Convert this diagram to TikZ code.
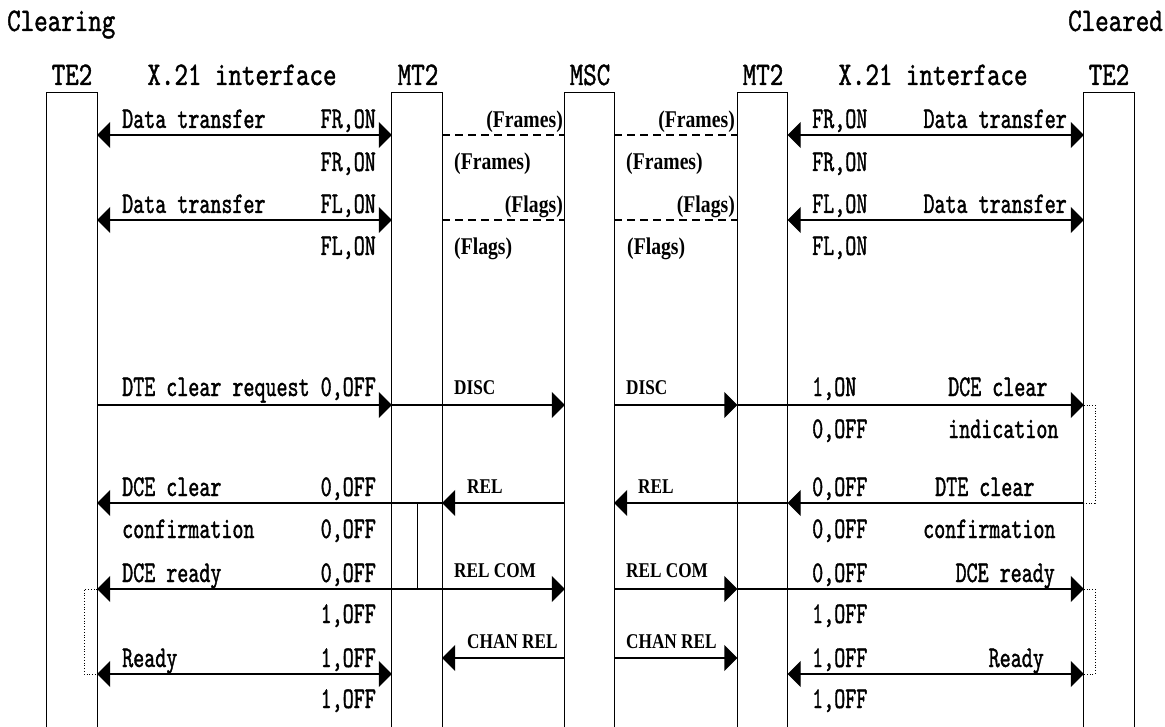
\documentclass[tikz,border=0pt]{standalone}
\usepackage{fontspec}
\newfontfamily\hdrfont{lmmono10-regular.otf}[FakeStretch=0.78, FakeBold=1.2]
\newfontfamily\labfont{lmmono10-regular.otf}[FakeStretch=0.70, FakeBold=1.2]
\newfontfamily\msgfont{Liberation Serif}[FakeStretch=0.82]
\usetikzlibrary{arrows.meta}
\begin{document}
\begin{tikzpicture}[x=1pt,y=-1pt,
 bar/.style={draw=none, minimum width=50pt, minimum height=634pt, anchor=north, inner sep=0pt},
 hdr/.style={font=\hdrfont\fontsize{33}{35}\selectfont, inner sep=0pt, anchor=base},
 lab/.style={font=\labfont\fontsize{30}{32}\selectfont, inner sep=0pt},
 msg/.style={font=\msgfont\bfseries\fontsize{21}{23}\selectfont, inner sep=0pt, anchor=base west},
 prn/.style={font=\msgfont\bfseries\fontsize{24}{26}\selectfont, inner sep=0pt},
 sig/.style={line width=1.4pt},
 dsh/.style={line width=1.2pt, dash pattern=on 8pt off 5pt},
 dotl/.style={line width=0.8pt, dotted},
 >={Triangle[length=13pt,width=26pt]}]
\useasboundingbox (0,0) rectangle (1165,727);
% titles
\node[hdr, anchor=base west] (tClr) at (7,31) {Clearing};
\node[hdr, anchor=base east] (tCld) at (1163,31) {Cleared};
\node[hdr] (hA) at (72,85) {TE2};
\node[hdr] (hX1) at (242,85) {X.21 interface};
\node[hdr] (hB) at (418,85) {MT2};
\node[hdr] (hC) at (590,85) {MSC};
\node[hdr] (hD) at (763,85) {MT2};
\node[hdr] (hX2) at (933,85) {X.21 interface};
\node[hdr] (hE) at (1109,85) {TE2};
% bars
\node[bar] (A) at (72,93) {};
\node[bar] (B) at (417,93) {};
\node[bar, minimum width=49pt] (C) at (589.5,93) {};
\node[bar] (D) at (762.5,93) {};
\node[bar] (E) at (1109,93) {};
\foreach \b in {A,B,C,D,E}
  \draw[line width=1pt] (\b.south west) -- (\b.north west) -- (\b.north east) -- (\b.south east);
% rows
\coordinate (r1) at (0,135);
\coordinate (r2) at (0,220);
\coordinate (r3) at (0,405);
\coordinate (r4) at (0,503);
\coordinate (r5) at (0,589);
\coordinate (r6) at (0,658);
\coordinate (r7) at (0,674);
\coordinate (dl) at (84,0);
\coordinate (dr) at (1095,0);
% data transfer
\draw[sig,<->] (A.east |- r1) -- (B.west |- r1);
\draw[dsh] (B.east |- r1) -- (C.west |- r1);
\draw[dsh] (C.east |- r1) -- (D.west |- r1);
\draw[sig,<->] (D.east |- r1) -- (E.west |- r1);
\draw[sig,<->] (A.east |- r2) -- (B.west |- r2);
\draw[dsh] (B.east |- r2) -- (C.west |- r2);
\draw[dsh] (C.east |- r2) -- (D.west |- r2);
\draw[sig,<->] (D.east |- r2) -- (E.west |- r2);
% clear request / DISC
\draw[sig,->] (A.east |- r3) -- (B.west |- r3);
\draw[sig,->] (B.west |- r3) -- (C.west |- r3);
\draw[sig,->] (C.east |- r3) -- (D.west |- r3);
\draw[sig,->] (D.west |- r3) -- (E.west |- r3);
% REL
\draw[sig,->] (C.west |- r4) -- (B.east |- r4);
\draw[sig,->] (B.east |- r4) -- (A.east |- r4);
\draw[sig,->] (E.west |- r4) -- (D.east |- r4);
\draw[sig,->] (D.east |- r4) -- (C.east |- r4);
\draw[line width=1pt] (B.center |- r4) -- (B.center |- r5);
% REL COM
\draw[sig,->] (B.west |- r5) -- (A.east |- r5);
\draw[sig,->] (B.west |- r5) -- (C.west |- r5);
\draw[sig,->] (C.east |- r5) -- (D.west |- r5);
\draw[sig,->] (D.west |- r5) -- (E.west |- r5);
% CHAN REL
\draw[sig,->] (C.west |- r6) -- (B.east |- r6);
\draw[sig,->] (C.east |- r6) -- (D.west |- r6);
% Ready
\draw[sig,<->] (A.east |- r7) -- (B.west |- r7);
\draw[sig,<->] (D.east |- r7) -- (E.west |- r7);
% dotted brackets
\draw[dotl] (A.east |- r5) -- (dl |- r5) -- (dl |- r7) -- (A.east |- r7);
\draw[dotl] (E.west |- r3) -- (dr |- r3) -- (dr |- r4) -- (E.west |- r4);
\draw[dotl] (E.west |- r5) -- (dr |- r5) -- (dr |- r7) -- (E.west |- r7);
% left labels
\node[lab, anchor=base west] (Lt1) at (122,128) {Data transfer};
\node[lab, anchor=base east] (Lf1) at (376,128) {FR,ON};
\node[lab, anchor=base east] (Lf2) at (376,171) {FR,ON};
\node[lab, anchor=base west] (Lt2) at (122,213) {Data transfer};
\node[lab, anchor=base east] (Lf3) at (376,213) {FL,ON};
\node[lab, anchor=base east] (Lf4) at (376,255) {FL,ON};
\node[lab, anchor=base west] (Lt3) at (122,396) {DTE clear request};
\node[lab, anchor=base east] (Lf5) at (376,396) {0,OFF};
\node[lab, anchor=base west] (Lt4) at (122,496) {DCE clear};
\node[lab, anchor=base east] (Lf6) at (376,496) {0,OFF};
\node[lab, anchor=base west] (Lt5) at (122,538) {confirmation};
\node[lab, anchor=base east] (Lf7) at (376,538) {0,OFF};
\node[lab, anchor=base west] (Lt6) at (122,582) {DCE ready};
\node[lab, anchor=base east] (Lf8) at (376,582) {0,OFF};
\node[lab, anchor=base east] (Lf9) at (376,623) {1,OFF};
\node[lab, anchor=base west] (Lt7) at (122,667) {Ready};
\node[lab, anchor=base east] (Lf10) at (376,667) {1,OFF};
\node[lab, anchor=base east] (Lf11) at (376,708) {1,OFF};
% right labels
\node[lab, anchor=base west] (Rf1) at (812,128) {FR,ON};
\node[lab, anchor=base east] (Rt1) at (1067,128) {Data transfer};
\node[lab, anchor=base west] (Rf2) at (812,171) {FR,ON};
\node[lab, anchor=base west] (Rf3) at (812,213) {FL,ON};
\node[lab, anchor=base east] (Rt2) at (1067,213) {Data transfer};
\node[lab, anchor=base west] (Rf4) at (812,255) {FL,ON};
\node[lab, anchor=base west] (Rf5) at (812,396) {1,ON};
\node[lab, anchor=base west] (Rt3) at (948,396) {DCE clear};
\node[lab, anchor=base west] (Rf6) at (812,438) {0,OFF};
\node[lab, anchor=base west] (Rt4) at (948,438) {indication};
\node[lab, anchor=base west] (Rf7) at (812,496) {0,OFF};
\node[lab, anchor=base west] (Rt5) at (935,496) {DTE clear};
\node[lab, anchor=base west] (Rf8) at (812,538) {0,OFF};
\node[lab, anchor=base west] (Rt6) at (923,538) {confirmation};
\node[lab, anchor=base west] (Rf9) at (812,582) {0,OFF};
\node[lab, anchor=base east] (Rt7) at (1055,582) {DCE ready};
\node[lab, anchor=base west] (Rf10) at (812,623) {1,OFF};
\node[lab, anchor=base west] (Rf11) at (812,667) {1,OFF};
\node[lab, anchor=base east] (Rt8) at (1044,667) {Ready};
\node[lab, anchor=base west] (Rf12) at (812,708) {1,OFF};
% MT2-MSC messages
\node[prn, anchor=base east] (m1) at (563,128) {(Frames)};
\node[prn, anchor=base west] (m2) at (454,170) {(Frames)};
\node[prn, anchor=base east] (m3) at (563,213) {(Flags)};
\node[prn, anchor=base west] (m4) at (454,255) {(Flags)};
\node[prn, anchor=base east] (m5) at (735,128) {(Frames)};
\node[prn, anchor=base west] (m6) at (626,170) {(Frames)};
\node[prn, anchor=base east] (m7) at (735,213) {(Flags)};
\node[prn, anchor=base west] (m8) at (627,255) {(Flags)};
\node[msg] (mD1) at (454,395) {DISC};
\node[msg] (mD2) at (626,395) {DISC};
\node[msg] (mR1) at (467,493) {REL};
\node[msg] (mR2) at (638,493) {REL};
\node[msg] (mC1) at (454,577) {REL COM};
\node[msg] (mC2) at (626,577) {REL COM};
\node[msg] (mH1) at (467,648) {CHAN REL};
\node[msg] (mH2) at (626,648) {CHAN REL};
\end{tikzpicture}
\end{document}
